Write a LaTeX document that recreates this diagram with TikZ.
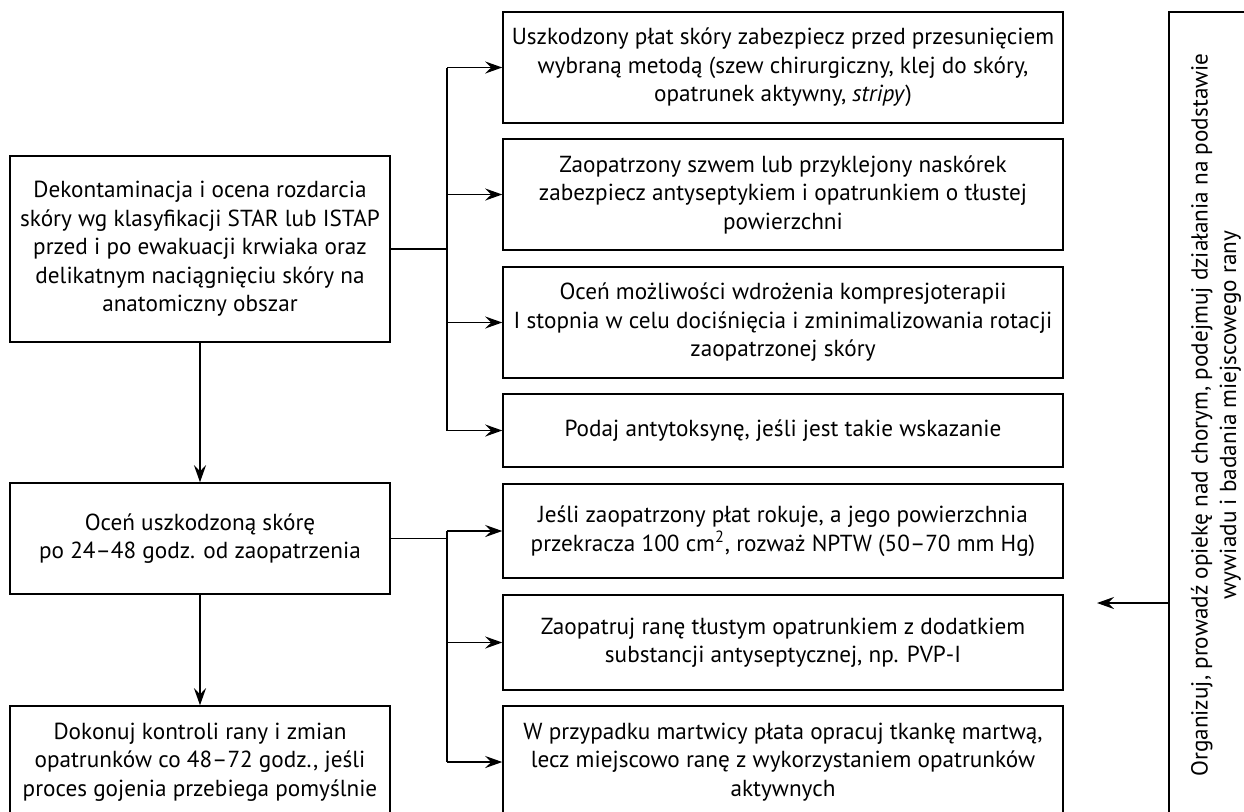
\documentclass[tikz,border=0pt]{standalone}
\usepackage{fontspec}
\setmainfont{PT Sans}
\usepackage{tikz}
\usetikzlibrary{arrows.meta}
\tikzstyle{arr}=[-{Stealth[length=8.5pt,width=6pt,inset=3pt]}]
\newcommand\leftW{190pt}
\newcommand\rightW{280pt}
\tikzstyle{fcbox}=[draw,align=center,inner sep=2pt,
  font=\fontsize{11.6}{14.25}\selectfont]
\tikzstyle{lbox}=[fcbox,minimum width=\leftW]
\tikzstyle{rbox}=[fcbox,minimum width=\rightW]

\begin{document}
\begin{tikzpicture}[x=0.5pt,y=-0.5pt,line width=0.75pt]
  \useasboundingbox (0,0) rectangle (1244,811);
  \clip (0,0) rectangle (1244,811);

  % left column
  \node[lbox,minimum height=93pt] (dekon) at (200,249) {Dekontaminacja i ocena rozdarcia\\skóry wg klasyfikacji STAR lub ISTAP\\przed i po ewakuacji krwiaka oraz\\delikatnym naciągnięciu skóry na\\anatomiczny obszar};
  \node[lbox,minimum height=55.5pt] (ocen) at (200,538.5) {Oceń uszkodzoną skórę\\po 24–48 godz. od zaopatrzenia};
  \node[lbox,minimum height=56pt] (kontrola) at (200,762) {Dokonuj kontroli rany i zmian\\opatrunków co 48–72 godz., jeśli\\proces gojenia przebiega pomyślnie};

  % right column
  \node[rbox,minimum height=55.5pt] (plat) at (783,67.5) {Uszkodzony płat skóry zabezpiecz przed przesunięciem\\wybraną metodą (szew chirurgiczny, klej do skóry,\\opatrunek aktywny, \textit{stripy})};
  \node[rbox,minimum height=55.5pt] (szew) at (783,194.5) {Zaopatrzony szwem lub przyklejony naskórek\\zabezpiecz antyseptykiem i opatrunkiem o tłustej\\powierzchni};
  \node[rbox,minimum height=55.5pt] (kompr) at (783,322.5) {Oceń możliwości wdrożenia kompresjoterapii\\I stopnia w celu dociśnięcia i zminimalizowania rotacji\\zaopatrzonej skóry};
  \node[rbox,minimum height=36.5pt] (antytox) at (783,430.5) {Podaj antytoksynę, jeśli jest takie wskazanie};
  \node[rbox,minimum height=47pt] (nptw) at (783,531) {Jeśli zaopatrzony płat rokuje, a jego powierzchnia\\przekracza 100 cm\textsuperscript{2}, rozważ NPTW (50–70 mm Hg)};
  \node[rbox,minimum height=47.5pt] (tlusty) at (783,642.5) {Zaopatruj ranę tłustym opatrunkiem z dodatkiem\\substancji antyseptycznej, np. PVP-I};
  \node[rbox,minimum height=56pt] (martwica) at (783,762) {W przypadku martwicy płata opracuj tkankę martwą,\\lecz miejscowo ranę z wykorzystaniem opatrunków\\aktywnych};

  % side box
  \node[fcbox,rotate=90,minimum width=403pt,minimum height=47pt] (organiz) at (1216,415) {Organizuj, prowadź opiekę nad chorym, podejmuj działania na podstawie\\wywiadu i badania miejscowego rany};

  \coordinate (bus) at (447,0);
  \coordinate (back) at (1097,603);

  \draw[arr] (dekon) -- (ocen);
  \draw[arr] (ocen) -- (kontrola);

  \draw (dekon.east) -- (dekon.east -| bus);
  \draw (plat.west -| bus) -- (antytox.west -| bus);
  \foreach \n in {plat,szew,kompr,antytox}
    \draw[arr] (\n.west -| bus) -- (\n.west);

  \draw (ocen.east) -- (ocen.east -| bus);
  \draw (nptw.west -| bus) -- (martwica.west -| bus);
  \foreach \n in {nptw,tlusty,martwica}
    \draw[arr] (\n.west -| bus) -- (\n.west);

  \draw[arr] (organiz.north |- back) -- (back);
\end{tikzpicture}
\end{document}
